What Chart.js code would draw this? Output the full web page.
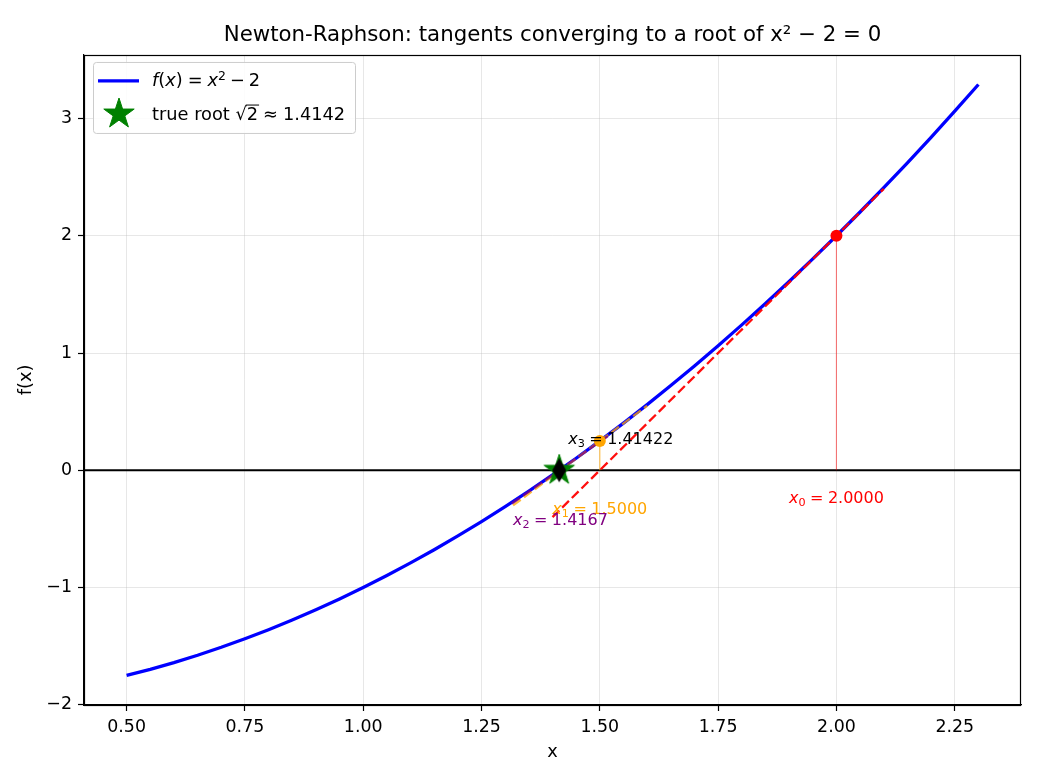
<!DOCTYPE html>
<html><head><meta charset="utf-8">
<script src="https://cdn.jsdelivr.net/npm/chart.js@4/dist/chart.umd.min.js"></script>
<style>html,body{margin:0;padding:0;background:#fff;}canvas{display:block;}</style>
</head><body>
<canvas id="c" width="1040" height="780"></canvas>
<script>
// ---- data ----
const curveX = [0.50,0.55,0.60,0.65,0.70,0.75,0.80,0.85,0.90,0.95,1.00,1.05,1.10,1.15,1.20,1.25,1.30,1.35,1.40,1.45,1.50,1.55,1.60,1.65,1.70,1.75,1.80,1.85,1.90,1.95,2.00,2.05,2.10,2.15,2.20,2.25,2.30];
const curveY = [-1.75,-1.6975,-1.64,-1.5775,-1.51,-1.4375,-1.36,-1.2775,-1.19,-1.0975,-1.0,-0.8975,-0.79,-0.6775,-0.56,-0.4375,-0.31,-0.1775,-0.04,0.1025,0.25,0.4025,0.56,0.7225,0.89,1.0625,1.24,1.4225,1.61,1.8025,2.0,2.2025,2.41,2.6225,2.84,3.0625,3.29];
const iterX = [2.0, 1.5, 1.41667];
const iterY = [2.0, 0.25, 0.00694];
const iterLabels = ['2.0000', '1.5000', '1.4167'];
const x3 = 1.41422;
const x3Label = '1.41422';
const rootX = 1.41421;
const rootLabel = '1.4142';
const tangentX = [[1.4, 2.1], [1.3167, 1.6], [1.3142, 1.5167]];
const tangentY = [[-0.4, 2.4], [-0.3, 0.55], [-0.2833, 0.2903]];
const xTicks = [0.5, 0.75, 1.0, 1.25, 1.5, 1.75, 2.0, 2.25];
const yTicks = [-2, -1, 0, 1, 2, 3];
const xRange = [0.41, 2.39];
const yRange = [-2.002, 3.542];

// ---- styles ----
const FONT = '"DejaVu Sans"';
const iterColors = ['rgba(255,0,0,1)', 'rgba(255,165,0,1)', 'rgba(128,0,128,1)'];
const tanColors = ['rgba(255,0,0,0.95)', 'rgba(255,165,0,0.75)', 'rgba(128,0,128,0.75)'];
const dropColors = ['rgba(255,0,0,0.5)', 'rgba(255,165,0,0.7)', 'rgba(128,0,128,0.5)'];

function makeStar(R, color) {
  const s = Math.ceil(R * 2 + 4);
  const cv = document.createElement('canvas'); cv.width = s; cv.height = s;
  const c = cv.getContext('2d');
  const r = R * 0.381966;
  c.beginPath();
  for (let i = 0; i < 10; i++) {
    const a = -Math.PI / 2 + i * Math.PI / 5;
    const rr = i % 2 === 0 ? R : r;
    const px = s / 2 + rr * Math.cos(a), py = s / 2 + rr * Math.sin(a);
    i === 0 ? c.moveTo(px, py) : c.lineTo(px, py);
  }
  c.closePath(); c.fillStyle = color; c.fill();
  c.lineWidth = 1; c.strokeStyle = color; c.stroke();
  return cv;
}
function makeDiamond(hw, hh, color) {
  const w = Math.ceil(hw * 2 + 2), h = Math.ceil(hh * 2 + 2);
  const cv = document.createElement('canvas'); cv.width = w; cv.height = h;
  const c = cv.getContext('2d');
  c.beginPath();
  c.moveTo(w / 2, h / 2 - hh); c.lineTo(w / 2 + hw, h / 2); c.lineTo(w / 2, h / 2 + hh); c.lineTo(w / 2 - hw, h / 2);
  c.closePath(); c.fillStyle = color; c.fill();
  return cv;
}
const starImg = makeStar(16, '#008000');
const diamondImg = makeDiamond(7, 12, '#000000');

// ---- rich (math-like) text ----
function segFont(g, size) { const s = g.s ? size * 0.7 : size; return (g.it ? 'italic ' : '') + s + 'px ' + FONT; }
function segWidth(ctx, g, size) { if (g.g !== undefined) return g.g * size; ctx.font = segFont(g, size); return ctx.measureText(g.t).width; }
function richWidth(ctx, segs, size) { let w = 0; for (const g of segs) w += segWidth(ctx, g, size); return w; }
function drawRich(ctx, segs, x, yMid, align, size, color) {
  ctx.save();
  const w = richWidth(ctx, segs, size);
  let cx = align === 'center' ? x - w / 2 : (align === 'right' ? x - w : x);
  const base = yMid + size * 0.36;
  ctx.fillStyle = color; ctx.strokeStyle = color; ctx.textBaseline = 'alphabetic'; ctx.textAlign = 'left';
  for (const g of segs) {
    const gw = segWidth(ctx, g, size);
    if (g.g === undefined) {
      ctx.font = segFont(g, size);
      const dy = g.s === 'sub' ? size * 0.2 : (g.s === 'sup' ? -size * 0.38 : 0);
      ctx.fillText(g.t, cx, base + dy);
      if (g.over) { ctx.lineWidth = 1; ctx.beginPath(); ctx.moveTo(cx - 1, base - size * 0.86); ctx.lineTo(cx + gw + 1, base - size * 0.86); ctx.stroke(); }
    }
    cx += gw;
  }
  ctx.restore();
}
const REL = {g: 0.28}, BIN = {g: 0.22};

const AS = 16;    // annotation size
const LS = 17.8;  // legend / label size
const annotPlugin = {
  id: 'annot',
  afterDatasetsDraw(chart) {
    const ctx = chart.ctx, xs = chart.scales.x, ys = chart.scales.y;
    for (let i = 0; i < iterX.length; i++) {
      drawRich(ctx, [{t: 'x', it: true}, {t: String(i), s: 'sub'}, REL, {t: '='}, REL, {t: iterLabels[i]}],
        xs.getPixelForValue(iterX[i]), ys.getPixelForValue(-0.23 - 0.094 * i), 'center', AS, iterColors[i]);
    }
    drawRich(ctx, [{t: 'x', it: true}, {t: '3', s: 'sub'}, REL, {t: '='}, REL, {t: x3Label}],
      xs.getPixelForValue(x3 + 0.019), ys.getPixelForValue(0.272), 'left', AS, '#000');
  },
  afterDraw(chart) {
    const ctx = chart.ctx, a = chart.chartArea;
    ctx.save();
    ctx.strokeStyle = '#000'; ctx.lineWidth = 1.2;
    ctx.strokeRect(Math.round(a.left) + 0.5, Math.round(a.top) + 0.5, Math.round(a.right - a.left) - 1, Math.round(a.bottom - a.top));
    // legend
    const lx = a.left + 9, ly = a.top + 7, lw = 262, lh = 71;
    ctx.beginPath();
    if (ctx.roundRect) ctx.roundRect(lx + 0.5, ly + 0.5, lw, lh, 3); else ctx.rect(lx + 0.5, ly + 0.5, lw, lh);
    ctx.fillStyle = 'rgba(255,255,255,0.85)'; ctx.fill();
    ctx.strokeStyle = '#cccccc'; ctx.lineWidth = 1; ctx.stroke();
    ctx.beginPath(); ctx.moveTo(lx + 5, ly + 19); ctx.lineTo(lx + 46, ly + 19);
    ctx.strokeStyle = '#0000ff'; ctx.lineWidth = 3.3; ctx.stroke();
    drawRich(ctx, [{t: 'f', it: true}, {t: '('}, {t: 'x', it: true}, {t: ')'}, REL, {t: '='}, REL, {t: 'x', it: true}, {t: '2', s: 'sup'}, BIN, {t: '\u2212'}, BIN, {t: '2'}],
      lx + 59, ly + 18, 'left', LS, '#000');
    ctx.drawImage(starImg, lx + 26 - starImg.width / 2, ly + 52 - starImg.height / 2);
    drawRich(ctx, [{t: 'true root '}, {t: '\u221A'}, {t: '2', over: true}, REL, {t: '\u2248'}, REL, {t: rootLabel}],
      lx + 59, ly + 52, 'left', LS, '#000');
    ctx.restore();
  }
};

const datasets = [];
datasets.push({ data: [{x: xRange[0], y: 0}, {x: xRange[1], y: 0}], showLine: true, borderColor: '#000', borderWidth: 1.9, pointRadius: 0, order: 30 });
datasets.push({ label: 'f(x) = x² − 2', data: curveX.map((x, i) => ({x, y: curveY[i]})), showLine: true, borderColor: '#0000ff', borderWidth: 3.3, pointRadius: 0, tension: 0, order: 25 });
for (let i = 0; i < iterX.length; i++) {
  datasets.push({ data: [{x: iterX[i], y: 0}, {x: iterX[i], y: iterY[i]}], showLine: true, borderColor: dropColors[i], borderWidth: 1.1, pointRadius: 0, order: 22 - i });
  datasets.push({ data: [{x: tangentX[i][0], y: tangentY[i][0]}, {x: tangentX[i][1], y: tangentY[i][1]}], showLine: true, borderColor: tanColors[i], borderWidth: 2.3, borderDash: [9.5, 4.1], pointRadius: 0, order: 15 - i });
}
datasets.push({ data: iterX.map((x, i) => ({x, y: iterY[i]})), showLine: false, pointRadius: 6, pointBackgroundColor: iterColors, pointBorderWidth: 0, order: 5 });
datasets.push({ label: 'true root √2 ≈ 1.4142', data: [{x: rootX, y: 0}], showLine: false, pointStyle: starImg, pointRadius: 16, order: 2 });
datasets.push({ data: [{x: x3, y: 0}], showLine: false, pointStyle: diamondImg, pointRadius: 12, order: 1 });

const tickFont = {family: 'DejaVu Sans', size: 17.4};
const labelFont = {family: 'DejaVu Sans', size: LS};
new Chart(document.getElementById('c'), {
  type: 'scatter',
  data: { datasets },
  plugins: [annotPlugin],
  options: {
    responsive: false, animation: false, devicePixelRatio: 1, events: [],
    layout: { padding: {left: 0, right: 19, top: 0, bottom: 0} },
    plugins: {
      legend: { display: false }, tooltip: { enabled: false },
      title: { display: true, fullSize: false, text: 'Newton-Raphson: tangents converging to a root of x² \u2212 2 = 0', color: '#000',
        font: {family: 'DejaVu Sans', size: 21.3, weight: 'normal', lineHeight: 1.2}, padding: {top: 23, bottom: 6.4} }
    },
    scales: {
      x: {
        type: 'linear', min: xRange[0], max: xRange[1],
        afterBuildTicks: s => { s.ticks = xTicks.map(v => ({value: v})); },
        afterFit: s => { s.height = 75; },
        ticks: { callback: v => Number(v).toFixed(2), color: '#000', font: tickFont, padding: 6, maxRotation: 0, autoSkip: false },
        grid: { color: 'rgba(176,176,176,0.3)', lineWidth: 1, tickColor: '#000', tickLength: 6, tickWidth: 1.2 },
        border: { color: '#000', width: 1.2 },
        title: { display: true, text: 'x', color: '#000', font: labelFont, padding: {top: 0, bottom: 17} }
      },
      y: {
        type: 'linear', min: yRange[0], max: yRange[1],
        afterBuildTicks: s => { s.ticks = yTicks.map(v => ({value: v})); },
        afterFit: s => { s.width = 84; },
        ticks: { callback: v => (v < 0 ? '\u2212' + Math.abs(v) : String(v)), color: '#000', font: tickFont, padding: 6, autoSkip: false },
        grid: { color: 'rgba(176,176,176,0.3)', lineWidth: 1, tickColor: '#000', tickLength: 6, tickWidth: 1.2 },
        border: { color: '#000', width: 1.2 },
        title: { display: true, text: 'f(x)', color: '#000', font: labelFont, padding: {top: 16, bottom: 0} }
      }
    }
  }
});
</script>
</body></html>
